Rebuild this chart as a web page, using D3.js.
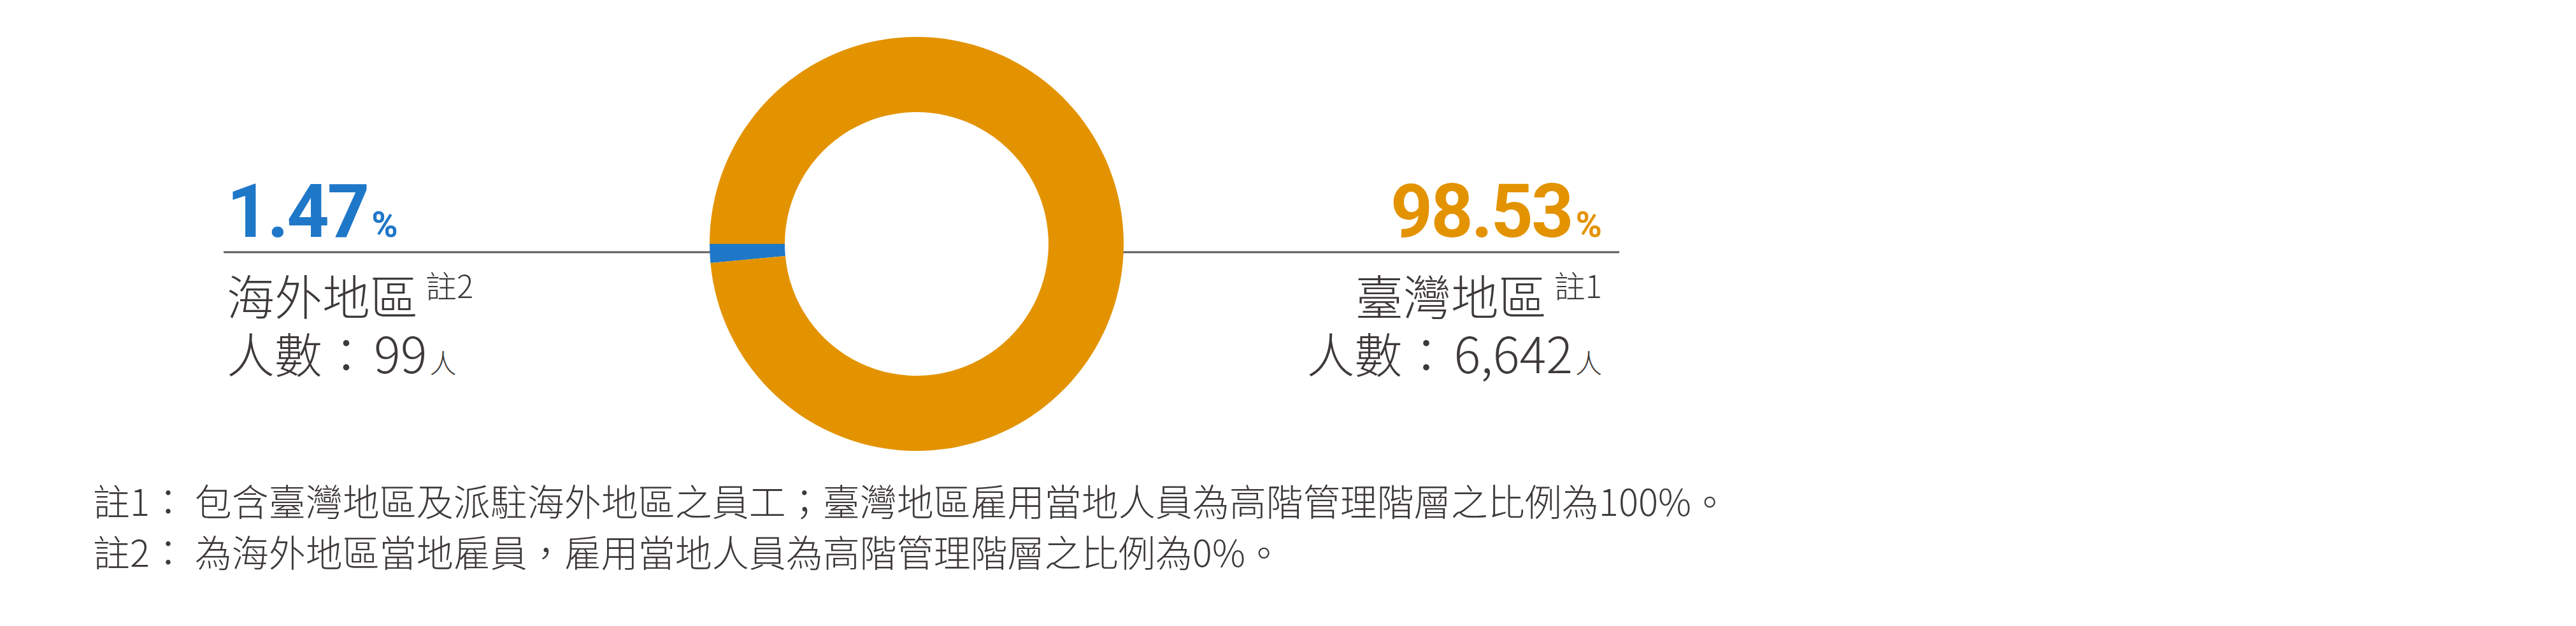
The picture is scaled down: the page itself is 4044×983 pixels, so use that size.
<!DOCTYPE html>
<html>
<head>
<meta charset="utf-8">
<script src="https://cdn.jsdelivr.net/npm/d3@7"></script>
<style>
  html, body { margin: 0; padding: 0; background: #ffffff; }
  svg { display: block; }
</style>
</head>
<body>
<div id="chart"></div>
<script>
// ---- data ----
const categories = ["海外地區", "臺灣地區"];
const percents = [1.47, 98.53];
const headcounts = ["99", "6,642"];
const noteRefs = ["註2", "註1"];
const countLabel = "人數：";
const unitLabel = "人";
const footnotes = [
  "註1： 包含臺灣地區及派駐海外地區之員工；臺灣地區雇用當地人員為高階管理階層之比例為100%。",
  "註2： 為海外地區當地雇員，雇用當地人員為高階管理階層之比例為0%。"
];

// ---- style ----
const W = 4044, H = 983;
const sliceColors = ["#1f77c8", "#e39300"];
const textColor = "#3e3a39";
const lineColor = "#5a5a5a";
const cjk = "'Noto Sans CJK TC', 'Noto Sans CJK JP', sans-serif";
const numFont = "Roboto, 'Noto Sans', sans-serif";

const svg = d3.select("#chart").append("svg")
  .attr("width", W).attr("height", H)
  .attr("viewBox", `0 0 ${W} ${H}`);
svg.append("rect").attr("width", W).attr("height", H).attr("fill", "#fff");

const cx = 1439, cy = 383, R = 325, r = 207;
const lineY = 396;

// connector lines
const leftX = 351, rightX = 2542;
svg.append("line").attr("x1", leftX).attr("x2", cx - R + 8)
  .attr("y1", lineY).attr("y2", lineY)
  .attr("stroke", lineColor).attr("stroke-width", 3);
svg.append("line").attr("x1", cx + R - 8).attr("x2", rightX)
  .attr("y1", lineY).attr("y2", lineY)
  .attr("stroke", lineColor).attr("stroke-width", 3);

// donut
const share = percents[0] / 100;
const start = -Math.PI / 2 - 2 * Math.PI * share;
const pie = d3.pie().sort(null).value(d => d)
  .startAngle(start).endAngle(start + 2 * Math.PI);
const arc = d3.arc().innerRadius(r).outerRadius(R);
svg.append("g").attr("transform", `translate(${cx},${cy})`)
  .selectAll("path").data(pie(percents)).join("path")
  .attr("d", arc)
  .attr("fill", (d, i) => sliceColors[i]);

// labels
const sides = [
  { x: 356, anchor: "start" },
  { x: 2515, anchor: "end" }
];
categories.forEach((cat, i) => {
  const s = sides[i];
  // big percentage
  const t = svg.append("text")
    .attr("x", s.x).attr("y", 372)
    .attr("text-anchor", s.anchor)
    .attr("fill", sliceColors[i])
    .attr("font-family", numFont)
    .attr("font-weight", 700)
    .attr("font-size", 116)
    .attr("letter-spacing", -3);
  t.append("tspan").text(percents[i].toFixed(2));
  t.append("tspan").attr("font-size", 56).attr("letter-spacing", 0).attr("dx", 6).text("%");

  // category + note ref
  const c = svg.append("text")
    .attr("x", s.x).attr("y", 495)
    .attr("text-anchor", s.anchor)
    .attr("fill", textColor)
    .attr("font-family", cjk)
    .attr("font-weight", 300)
    .attr("font-size", 75);
  c.append("tspan").text(cat);
  c.append("tspan").attr("font-size", 49).attr("dx", 12).attr("dy", -27).text(noteRefs[i]);

  // headcount
  const h = svg.append("text")
    .attr("x", s.x).attr("y", 586)
    .attr("text-anchor", s.anchor)
    .attr("fill", textColor)
    .attr("font-family", cjk)
    .attr("font-weight", 300)
    .attr("font-size", 75);
  h.append("tspan").text(countLabel);
  h.append("tspan").attr("font-size", 78).attr("dx", 6).text(headcounts[i]);
  h.append("tspan").attr("font-size", 42).attr("dx", 4).text(unitLabel);
});

// footnotes
svg.append("g").selectAll("text").data(footnotes).join("text")
  .attr("x", 146)
  .attr("y", (d, i) => 810 + i * 80)
  .attr("fill", textColor)
  .attr("font-family", cjk)
  .attr("font-weight", 300)
  .attr("font-size", 58)
  .attr("xml:space", "preserve")
  .style("white-space", "pre")
  .text(d => d);
</script>
</body>
</html>
